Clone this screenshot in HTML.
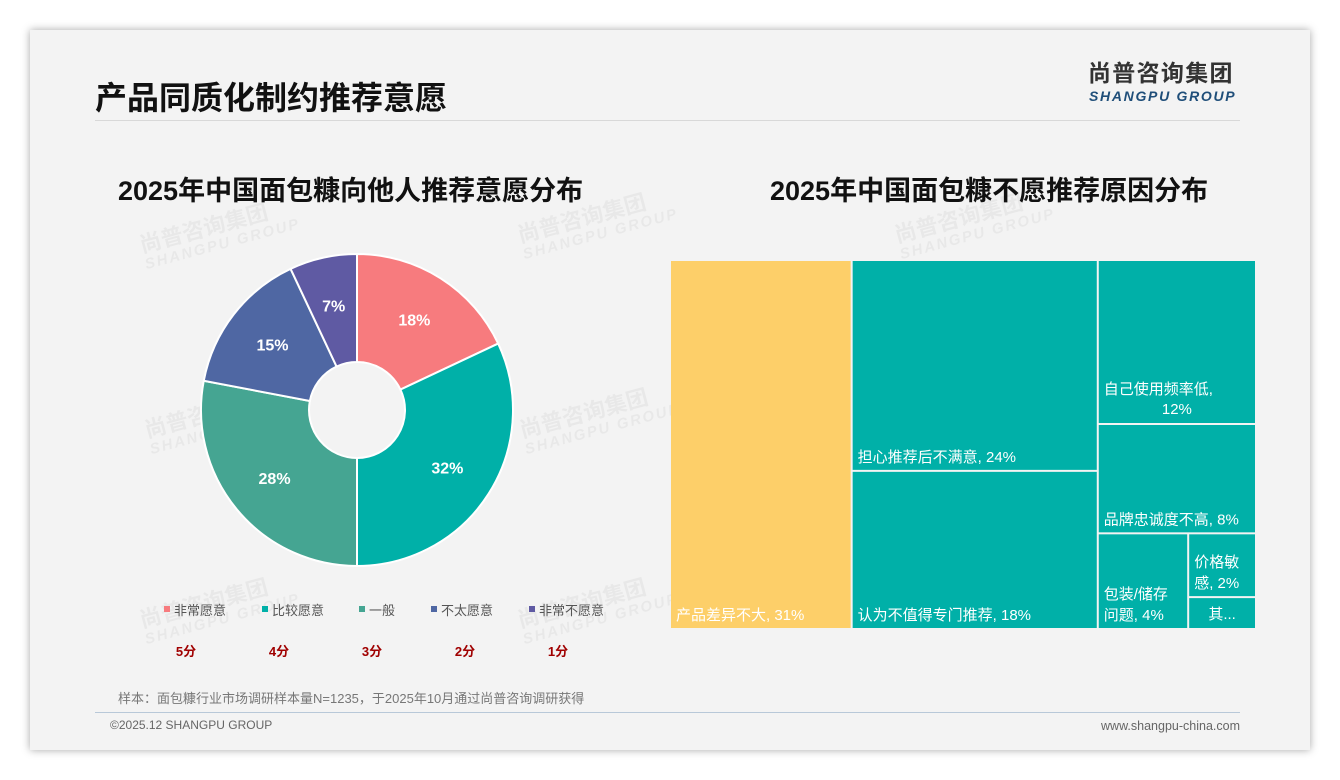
<!DOCTYPE html>
<html><head><meta charset="utf-8">
<style>
body{margin:0;width:1340px;height:780px;background:#fff;font-family:"Liberation Sans","Noto Sans CJK SC",sans-serif;position:relative;overflow:hidden}
.slide{position:absolute;left:30px;top:30px;width:1280px;height:720px;background:#f3f3f3;box-shadow:0 0 8px rgba(0,0,0,.35)}
.abs{position:absolute}
.wm{position:absolute;color:rgba(0,0,0,0.045);font-weight:bold;transform:rotate(-15deg);font-size:22px;line-height:20px}
.wm span{display:block;font-size:15px;letter-spacing:2px;font-style:italic}
</style></head><body>
<div class="slide"></div>
<div class="abs" style="left:95px;top:73px;font-size:32px;font-weight:bold;color:#111">产品同质化制约推荐意愿</div>
<div class="abs" style="left:1088px;top:58px;font-size:23px;line-height:30px;font-weight:bold;color:#333;letter-spacing:1.3px">尚普咨询集团</div>
<div class="abs" style="left:1089px;top:88px;font-size:14px;font-weight:bold;font-style:italic;color:#1f4e79;letter-spacing:1.7px">SHANGPU GROUP</div>
<div class="abs" style="left:95px;top:120px;width:1145px;height:1px;background:#d8d8d8"></div>
<div class="wm" style="left:140px;top:215px">尚普咨询集团<span>SHANGPU GROUP</span></div>
<div class="wm" style="left:518px;top:205px">尚普咨询集团<span>SHANGPU GROUP</span></div>
<div class="wm" style="left:895px;top:205px">尚普咨询集团<span>SHANGPU GROUP</span></div>
<div class="wm" style="left:145px;top:400px">尚普咨询集团<span>SHANGPU GROUP</span></div>
<div class="wm" style="left:520px;top:400px">尚普咨询集团<span>SHANGPU GROUP</span></div>
<div class="wm" style="left:140px;top:590px">尚普咨询集团<span>SHANGPU GROUP</span></div>
<div class="wm" style="left:518px;top:590px">尚普咨询集团<span>SHANGPU GROUP</span></div>
<div class="abs" style="left:118px;top:169px;font-size:27px;font-weight:bold;color:#111">2025年中国面包糠向他人推荐意愿分布</div>
<div class="abs" style="left:770px;top:169px;font-size:27px;font-weight:bold;color:#111">2025年中国面包糠不愿推荐原因分布</div>
<svg id="chart" class="abs" style="left:0;top:0" width="1340" height="780"></svg>
<div class="abs" style="left:118px;top:688px;font-size:13px;color:#777">样本：面包糠行业市场调研样本量N=1235，于2025年10月通过尚普咨询调研获得</div>
<div class="abs" style="left:95px;top:712px;width:1145px;height:1px;background:#b8c8d8"></div>
<div class="abs" style="left:110px;top:718px;font-size:12px;color:#666">©2025.12 SHANGPU GROUP</div>
<div class="abs" style="right:100px;top:719px;font-size:12.5px;color:#666">www.shangpu-china.com</div>
<script>
const pieLabels=["非常愿意","比较愿意","一般","不太愿意","非常不愿意"];
const pieValues=[18,32,28,15,7];
const pieScores=["5分","4分","3分","2分","1分"];
const pieColors=["#f77b7e","#00b0a8","#45a592","#4f67a3","#5f5aa3"];
const tmLabels=["产品差异不大","担心推荐后不满意","认为不值得专门推荐","自己使用频率低","品牌忠诚度不高","包装/储存问题","价格敏感","其他"];
const tmValues=[31,24,18,12,8,4,2,1];
const NS="http://www.w3.org/2000/svg";
const svg=document.getElementById('chart');
function mk(t,a){const e=document.createElementNS(NS,t);for(const k in a)e.setAttribute(k,a[k]);svg.appendChild(e);return e;}
// donut
const cx=357,cy=410,R=156,r0=48;
const tot=pieValues.reduce((a,b)=>a+b,0);
let ang=0;
pieValues.forEach((v,i)=>{
 const a0=ang/tot*2*Math.PI,a1=(ang+v)/tot*2*Math.PI;ang+=v;
 const p=(a,rr)=>[cx+rr*Math.sin(a),cy-rr*Math.cos(a)];
 const [x0,y0]=p(a0,R),[x1,y1]=p(a1,R),[x2,y2]=p(a1,r0),[x3,y3]=p(a0,r0);
 const lg=(a1-a0)>Math.PI?1:0;
 const s=mk('path',{d:`M${x0},${y0}A${R},${R} 0 ${lg} 1 ${x1},${y1}L${x2},${y2}A${r0},${r0} 0 ${lg} 0 ${x3},${y3}Z`,fill:pieColors[i],stroke:'#fff','stroke-width':2});
 
 
 const am=(a0+a1)/2,[lx,ly]=p(am,107);
 const t=mk('text',{x:lx,y:ly+6,'text-anchor':'middle','font-size':16,'font-weight':'bold',fill:'#fff'});
 t.textContent=v+'%';
 
 
 const leftX=[164,262,359,431,529][i];
 const sq=mk('rect',{x:leftX,y:606,width:6,height:6,fill:pieColors[i]});
 
 
 const lt=mk('text',{x:leftX+10,y:615,'font-size':13,fill:'#555'});
 lt.textContent=pieLabels[i];
 
 
 const st=mk('text',{x:186+i*93,y:656,'text-anchor':'middle','font-size':13,'font-weight':'bold',fill:'#a00000'});
 st.textContent=pieScores[i];
 
 
});
// treemap
const X0=670,Y0=260,W=586,H=369;
const T=tmValues.reduce((a,b)=>a+b,0);
const rects=[];
let x=X0;
const w1=W*tmValues[0]/T; rects.push([x,Y0,w1,H]); x+=w1;
const c2=tmValues[1]+tmValues[2], w2=W*c2/T;
const h1=H*tmValues[1]/c2; rects.push([x,Y0,w2,h1]); rects.push([x,Y0+h1,w2,H-h1]); x+=w2;
const w3=X0+W-x, c3=T-tmValues[0]-c2;
let y=Y0;
const hA=H*tmValues[3]/c3; rects.push([x,y,w3,hA]); y+=hA;
const hB=H*tmValues[4]/c3; rects.push([x,y,w3,hB]); y+=hB;
const hC=Y0+H-y, c4=tmValues[5]+tmValues[6]+tmValues[7];
const wD=w3*tmValues[5]/c4; rects.push([x,y,wD,hC]);
const hE=hC*tmValues[6]/(tmValues[6]+tmValues[7]);
rects.push([x+wD,y,w3-wD,hE]); rects.push([x+wD,y+hE,w3-wD,hC-hE]);
const lbl=[
 [[tmLabels[0]+", "+tmValues[0]+"%"],'bl'],
 [[tmLabels[1]+", "+tmValues[1]+"%"],'bl'],
 [[tmLabels[2]+", "+tmValues[2]+"%"],'bl'],
 [[tmLabels[3]+",",tmValues[3]+"%"],'c'],
 [[tmLabels[4]+", "+tmValues[4]+"%"],'bl'],
 [["包装/储存","问题, "+tmValues[5]+"%"],'bl'],
 [["价格敏","感, "+tmValues[6]+"%"],'bl'],
 [["其..."],'c2']];
rects.forEach((q,i)=>{
 const e=mk('rect',{x:q[0]+1,y:q[1]+1,width:q[2]-2,height:q[3]-2,fill:i==0?'#fdcf69':'#00b0a8'});
 
 
 const lines=lbl[i][0],mode=lbl[i][1];
 lines.forEach((s,j)=>{
  let tx,ty,anc='start';
  if(mode==='bl'){tx=q[0]+6;ty=q[1]+q[3]-9-(lines.length-1-j)*21;}
  else if(mode==='c'){tx=q[0]+6;ty=q[1]+q[3]-30+j*20;}
  else{tx=q[0]+q[2]/2;ty=q[1]+q[3]-10;anc='middle';}
  const t=mk('text',{x:tx,y:ty,'font-size':15,fill:'#fff','text-anchor':anc});
  if(mode==='c'&&j==1){t.setAttribute('x',q[0]+q[2]/2);t.setAttribute('text-anchor','middle');}
  t.textContent=s;
  
  
 });
});
</script>
</body></html>
